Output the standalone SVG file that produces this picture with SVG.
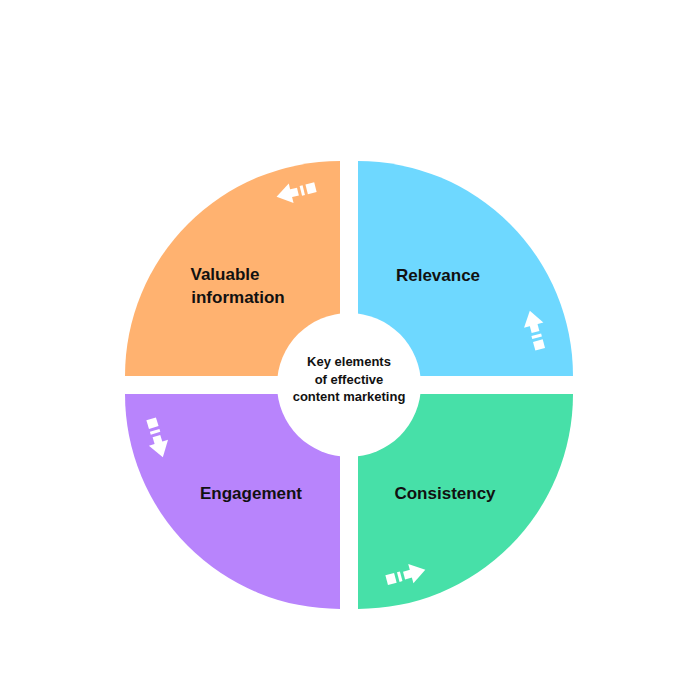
<svg xmlns="http://www.w3.org/2000/svg" width="700" height="700" viewBox="0 0 700 700">
<style>
.lbl{font-family:"Liberation Sans",Arial,sans-serif;font-weight:bold;font-size:17px;fill:#111;text-anchor:middle}
.ctr{font-family:"Liberation Sans",Arial,sans-serif;font-weight:bold;font-size:13px;fill:#111;text-anchor:middle}
</style>
<defs>
<g id="arr" fill="#fff">
<rect x="-20" y="-5" width="9" height="10"/>
<rect x="-8" y="-5" width="3" height="10"/>
<rect x="-2" y="-4" width="8" height="8"/>
<path d="M5,-10 L20,0 L5,10 Z"/>
</g>
</defs>
<rect width="700" height="700" fill="#fff"/>
<g id="valuable">
<path d="M340,376 L125,376 A215,215 0 0 1 340,161 Z" fill="#FFB270"/>
<use href="#arr" transform="translate(296,192) rotate(166)"/>
<text class="lbl" x="225" y="280">Valuable</text>
<text class="lbl" x="238" y="303">information</text>
</g>
<g id="relevance">
<path d="M358,376 L358,161 A215,215 0 0 1 573,376 Z" fill="#6ED8FF"/>
<use href="#arr" transform="translate(535,330) rotate(-105)"/>
<text class="lbl" x="438" y="281">Relevance</text>
</g>
<g id="consistency">
<path d="M358,394 L573,394 A215,215 0 0 1 358,609 Z" fill="#47E0A8"/>
<use href="#arr" transform="translate(406,575) rotate(-15)"/>
<text class="lbl" x="445" y="499">Consistency</text>
</g>
<g id="engagement">
<path d="M340,394 L340,609 A215,215 0 0 1 125,394 Z" fill="#B884FC"/>
<use href="#arr" transform="translate(157,438) rotate(73)"/>
<text class="lbl" x="251" y="499">Engagement</text>
</g>
<g id="center">
<circle cx="349" cy="385" r="72" fill="#fff"/>
<text class="ctr" x="349" y="366">Key elements</text>
<text class="ctr" x="349" y="384">of effective</text>
<text class="ctr" x="349" y="401">content marketing</text>
</g>
<g id="connectors"/>
</svg>
